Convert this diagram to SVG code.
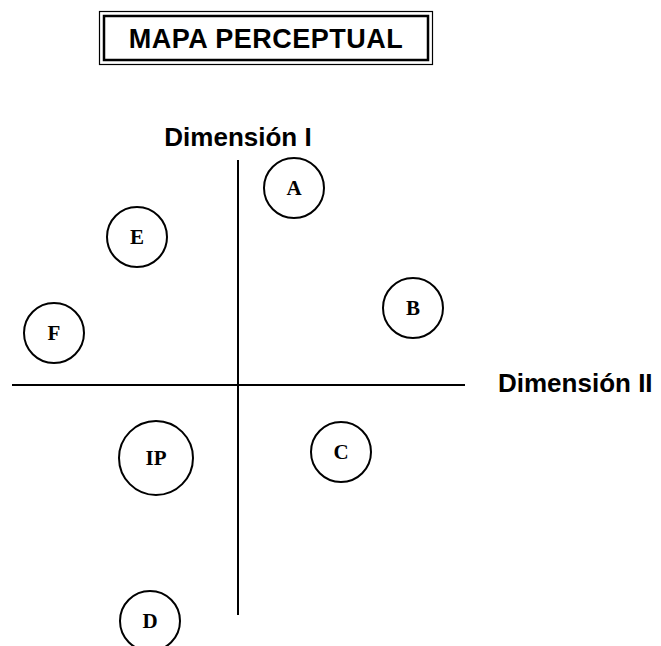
<svg xmlns="http://www.w3.org/2000/svg" width="661" height="646" viewBox="0 0 661 646">
<style>
.node circle{fill:#fff;stroke:#000;stroke-width:2}
.node text{font-family:"Liberation Serif","Times New Roman",serif;font-weight:bold;font-size:21px;text-anchor:middle}
.axis{stroke:#000;stroke-width:2}
.lbl{font-family:"Liberation Sans",Arial,sans-serif;font-weight:bold;font-size:26px}
</style>
<rect width="661" height="646" fill="#fff"/>
<g id="title">
<rect x="99.5" y="11.5" width="333" height="53" fill="none" stroke="#000" stroke-width="1.2"/>
<rect x="104" y="16" width="324" height="44" fill="none" stroke="#000" stroke-width="2.5"/>
<text x="266" y="48" class="lbl" text-anchor="middle" style="font-size:27px" letter-spacing="0.5">MAPA PERCEPTUAL</text>
</g>
<g id="connectors">
<line class="axis" x1="238" y1="160" x2="238" y2="615"/>
<line class="axis" x1="12" y1="385" x2="465" y2="385"/>
</g>
<text id="dim1" class="lbl" x="238" y="146" text-anchor="middle">Dimensión I</text>
<text id="dim2" class="lbl" x="498" y="392">Dimensión II</text>
<g id="A" class="node"><circle cx="294" cy="188" r="30"/><text x="294" y="195">A</text></g>
<g id="E" class="node"><circle cx="137" cy="237" r="30"/><text x="137" y="244">E</text></g>
<g id="B" class="node"><circle cx="413" cy="308" r="30"/><text x="413" y="315">B</text></g>
<g id="F" class="node"><circle cx="54" cy="333" r="30"/><text x="54" y="340">F</text></g>
<g id="IP" class="node"><circle cx="156" cy="458" r="37"/><text x="156" y="465">IP</text></g>
<g id="C" class="node"><circle cx="341" cy="452" r="30"/><text x="341" y="459">C</text></g>
<g id="D" class="node"><circle cx="150" cy="621" r="30"/><text x="150" y="628">D</text></g>
</svg>
